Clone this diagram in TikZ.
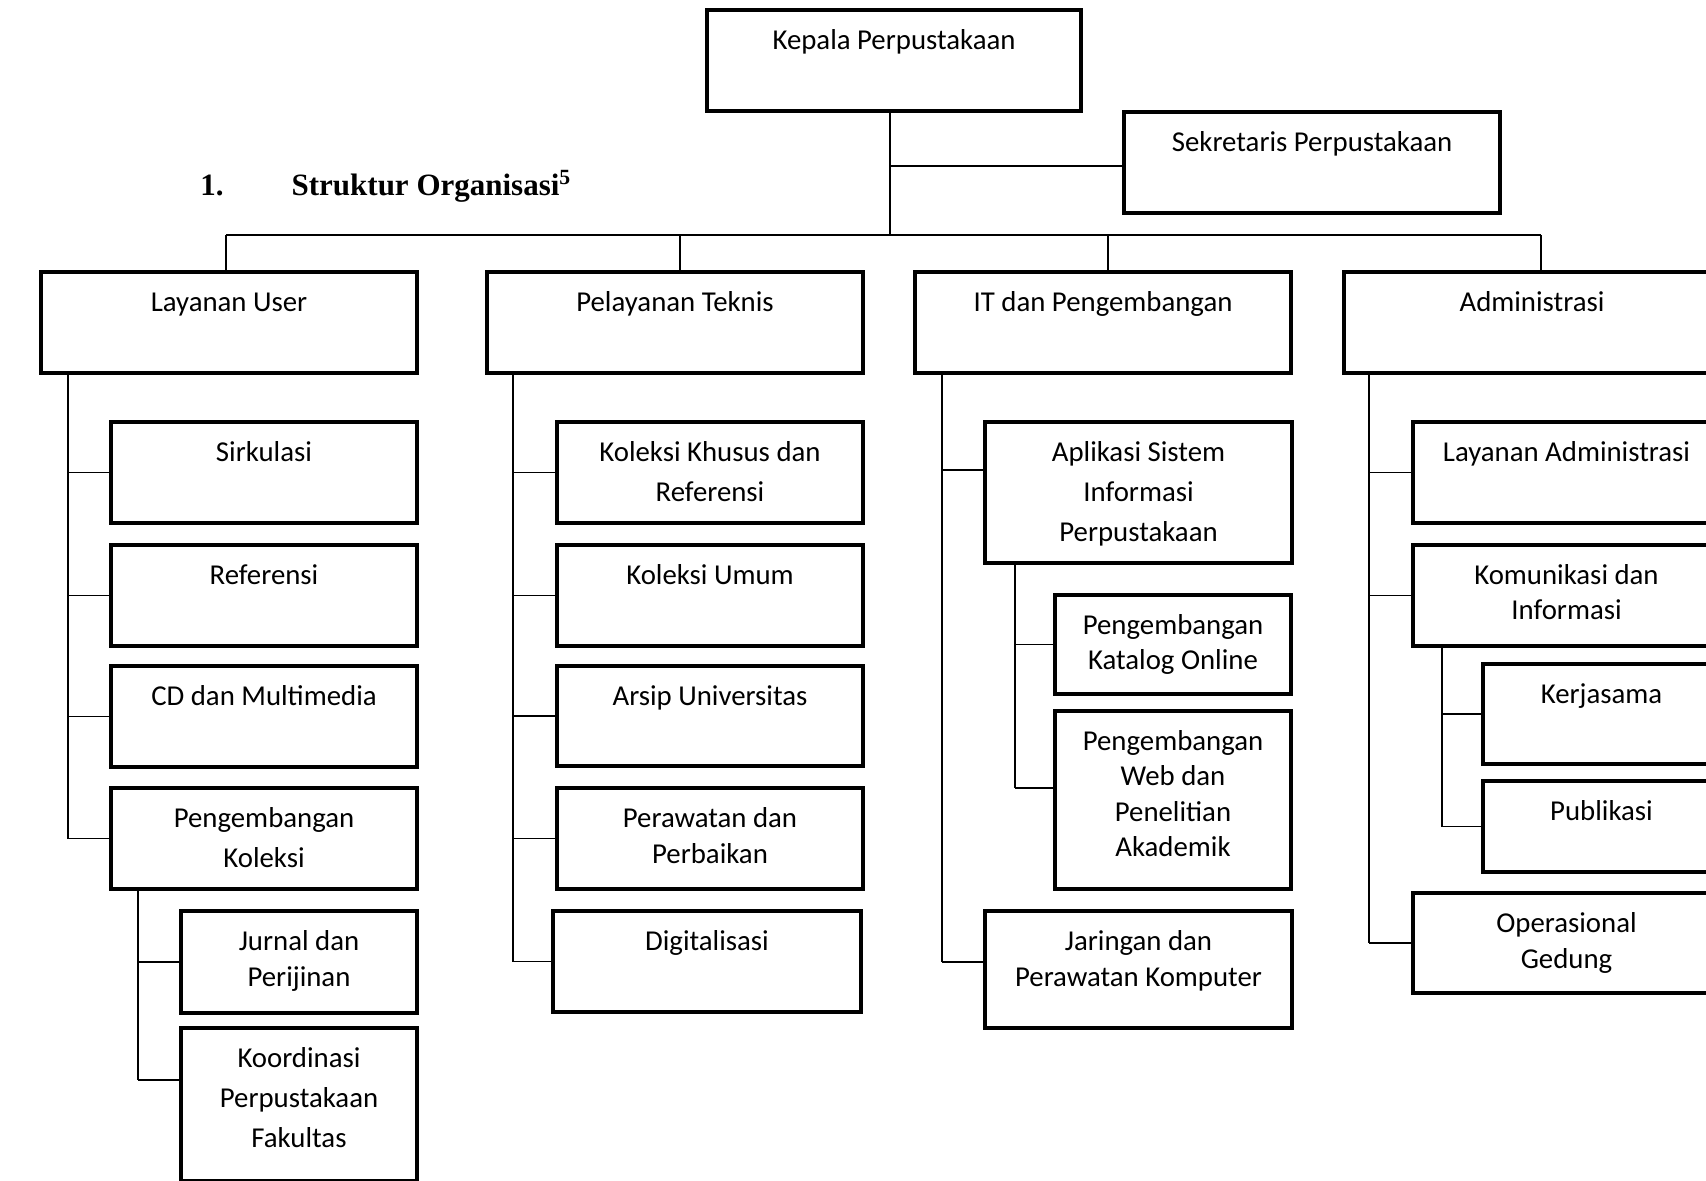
\documentclass[tikz,border=0pt]{standalone}
\usepackage{fontspec}
\setmainfont{Carlito}
\newfontfamily\headfont{Liberation Serif}
\usetikzlibrary{fit}
\newcommand\obox[7][]{%
  \node[box, fit={(#3,#4) (#5,#6)}] (#2) {};
  \node[lbl,#1] (#2T) at ([yshift=-9.4pt]#2.north) {\vphantom{dK}#7};}
\begin{document}
\begin{tikzpicture}[x=0.5pt,y=-0.5pt,
  box/.style={draw, line width=1.65pt, inner sep=0pt, outer sep=0pt, rectangle},
  conn/.style={draw, line width=0.8pt},
  lbl/.style={anchor=north, inner sep=0pt, align=center, font=\fontsize{14.4}{17.75}\selectfont},
  wide/.style={font=\fontsize{14.4}{20}\selectfont},
  mid/.style={font=\fontsize{14.4}{18.3}\selectfont}]
\clip (0,0) rectangle (1706,1180);
\fill[white] (0,0) rectangle (1706,1180);

% heading
\node[anchor=base west, inner sep=0pt, font=\headfont\bfseries\fontsize{15.5}{18}\selectfont] (head) at (200,195) {1.\hspace{34pt}Struktur Organisasi\textsuperscript{5}};

% top
\obox{kep}{707}{10}{1081}{111}{Kepala Perpustakaan}
\obox{sek}{1124}{112}{1500}{213}{Sekretaris Perpustakaan}

% level 1
\obox{lu}{41}{272}{417}{373}{Layanan User}
\obox{pt}{487}{272}{863}{373}{Pelayanan Teknis}
\obox{it}{915}{272}{1291}{373}{IT dan Pengembangan}
\obox{adm}{1344}{272}{1720}{373}{Administrasi}

% column 1
\obox{sirk}{111}{422}{417}{523}{Sirkulasi}
\obox{ref}{111}{545}{417}{646}{Referensi}
\obox{cd}{111}{666}{417}{767}{CD dan Multimedia}
\obox[wide]{pk}{111}{788}{417}{889}{Pengembangan\\Koleksi}
\obox[mid]{jur}{181}{911}{417}{1013}{Jurnal dan\\Perijinan}
\obox[wide]{koo}{181}{1028}{417}{1181}{Koordinasi\\Perpustakaan\\Fakultas}

% column 2
\obox[wide]{kkr}{557}{422}{863}{523}{Koleksi Khusus dan\\Referensi}
\obox{ku}{557}{545}{863}{646}{Koleksi Umum}
\obox{au}{557}{666}{863}{766}{Arsip Universitas}
\obox[mid]{pp}{557}{788}{863}{889}{Perawatan dan\\Perbaikan}
\obox{dig}{553}{911}{861}{1012}{Digitalisasi}

% column 3
\obox[wide]{apl}{985}{422}{1292}{563}{Aplikasi Sistem\\Informasi\\Perpustakaan}
\obox{kat}{1055}{595}{1291}{694}{Pengembangan\\Katalog Online}
\obox{web}{1055}{711}{1291}{889}{Pengembangan\\Web dan\\Penelitian\\Akademik}
\obox[mid]{jar}{985}{911}{1292}{1028}{Jaringan dan\\Perawatan Komputer}

% column 4
\obox{la}{1413}{422}{1720}{523}{Layanan Administrasi}
\obox{kom}{1413}{545}{1720}{646}{Komunikasi dan\\Informasi}
\obox{ker}{1483}{664}{1720}{764}{Kerjasama}
\obox{pub}{1483}{781}{1720}{872}{Publikasi}
\obox[mid]{og}{1413}{893}{1720}{993}{Operasional\\Gedung}

% connector points
\coordinate (tk) at (890,235);
\coordinate (bl) at (226,235);
\coordinate (br) at (1541,235);
\coordinate (d2) at (680,235);
\coordinate (d3) at (1108,235);
\coordinate (sekA) at ([yshift=-27pt]sek.north west);
\coordinate (c1) at (68,0);
\coordinate (c1b) at (138,0);
\coordinate (c2) at (513,0);
\coordinate (c3) at (942,0);
\coordinate (c3b) at (1015,0);
\coordinate (c4) at (1369,0);
\coordinate (c4b) at (1442,0);
\coordinate (kooA) at ([yshift=-26pt]koo.north west);
\coordinate (aplA) at ([yshift=-24pt]apl.north west);
\coordinate (webA) at ([yshift=-38.5pt]web.north west);
\coordinate (jarA) at ([yshift=-25.5pt]jar.north west);

% top connectors
\draw[conn] (tk |- kep.south) -- (tk);
\draw[conn] (tk |- sekA) -- (sekA);
\draw[conn] (bl) -- (br);
\draw[conn] (bl) -- (bl |- lu.north);
\draw[conn] (d2) -- (d2 |- pt.north);
\draw[conn] (d3) -- (d3 |- it.north);
\draw[conn] (br) -- (br |- adm.north);

% column 1
\draw[conn] (c1 |- lu.south) -- (c1 |- pk.west);
\foreach \n in {sirk,ref,cd,pk} \draw[conn] (c1 |- \n.west) -- (\n.west);
\draw[conn] (c1b |- pk.south) -- (c1b |- kooA);
\draw[conn] (c1b |- jur.west) -- (jur.west);
\draw[conn] (c1b |- kooA) -- (kooA);

% column 2
\draw[conn] (c2 |- pt.south) -- (c2 |- dig.west);
\foreach \n in {kkr,ku,au,pp,dig} \draw[conn] (c2 |- \n.west) -- (\n.west);

% column 3
\draw[conn] (c3 |- it.south) -- (c3 |- jarA);
\draw[conn] (c3 |- aplA) -- (aplA);
\draw[conn] (c3 |- jarA) -- (jarA);
\draw[conn] (c3b |- apl.south) -- (c3b |- webA);
\draw[conn] (c3b |- kat.west) -- (kat.west);
\draw[conn] (c3b |- webA) -- (webA);

% column 4
\draw[conn] (c4 |- adm.south) -- (c4 |- og.west);
\foreach \n in {la,kom,og} \draw[conn] (c4 |- \n.west) -- (\n.west);
\draw[conn] (c4b |- kom.south) -- (c4b |- pub.west);
\foreach \n in {ker,pub} \draw[conn] (c4b |- \n.west) -- (\n.west);
\end{tikzpicture}
\end{document}
